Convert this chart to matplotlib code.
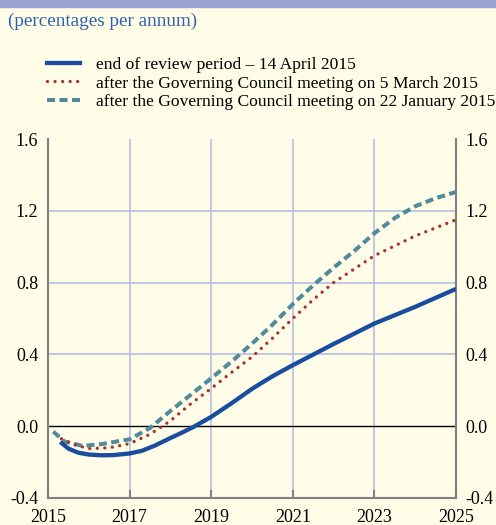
import numpy as np
import matplotlib
matplotlib.use('Agg')
import matplotlib.pyplot as plt
from matplotlib.lines import Line2D

# %% Data (years, percentages per annum)
blue_x = [2015.3, 2015.5, 2015.75, 2016.0, 2016.3, 2016.6, 2017.0, 2017.3,
          2017.6, 2018.0, 2018.3, 2018.6, 2019.0, 2019.5, 2020.0, 2020.5,
          2021.0, 2022.0, 2023.0, 2024.0, 2025.0]
blue_y = [-0.088, -0.125, -0.148, -0.158, -0.162, -0.161, -0.152, -0.137,
          -0.11, -0.066, -0.034, 0.0, 0.052, 0.128, 0.208, 0.278, 0.34,
          0.458, 0.572, 0.665, 0.765]

red_x = [2015.33, 2015.6, 2016.0, 2016.5, 2017.0, 2017.5, 2018.0, 2018.5,
         2019.0, 2019.5, 2020.0, 2020.5, 2021.0, 2021.5, 2022.0, 2023.0,
         2024.0, 2025.0]
red_y = [-0.07, -0.1, -0.125, -0.12, -0.097, -0.045, 0.03, 0.125, 0.21,
         0.30, 0.386, 0.49, 0.60, 0.705, 0.80, 0.95, 1.06, 1.15]

teal_x = [2015.13, 2015.4, 2015.85, 2016.3, 2017.0, 2017.5, 2018.0, 2018.5,
          2019.0, 2019.5, 2020.0, 2020.5, 2021.0, 2021.5, 2022.0, 2022.5,
          2023.0, 2023.5, 2024.0, 2024.5, 2025.0]
teal_y = [-0.03, -0.085, -0.11, -0.1, -0.073, -0.01, 0.085, 0.175, 0.267,
          0.36, 0.46, 0.565, 0.68, 0.785, 0.883, 0.975, 1.075, 1.16, 1.225,
          1.27, 1.305]

labels = ['end of review period \u2013 14 April 2015',
          'after the Governing Council meeting on 5 March 2015',
          'after the Governing Council meeting on 22 January 2015']
x_ticks = [2015, 2017, 2019, 2021, 2023, 2025]
y_ticks = [-0.4, 0.0, 0.4, 0.8, 1.2, 1.6]

# %% Styling
bg = '#FFFDE8'
grid_c = '#B8BFE0'
blue_c = '#1B4D9E'
red_c = '#A8332B'
teal_c = '#4F8B9B'
plt.rcParams['font.family'] = ['Liberation Serif', 'DejaVu Serif']

fig = plt.figure(figsize=(4.96, 5.25), dpi=100, facecolor=bg)
ax = fig.add_axes([48 / 496, 1 - 498 / 525, 408 / 496, 359 / 525])
ax.set_facecolor(bg)

# top colour band
fig.patches.append(plt.Rectangle((0, 1 - 7 / 525), 1, 7 / 525,
                                 transform=fig.transFigure,
                                 color='#9BA3D3', zorder=0))
fig.text(8 / 496, 1 - 21 / 525, '(percentages per annum)', color='#2E64AE',
         fontsize=13.8, va='center', ha='left')

for yt in y_ticks[1:-1]:
    if yt != 0.0:
        ax.axhline(yt, color=grid_c, lw=1.2, zorder=1)
for xt in x_ticks[1:-1]:
    ax.axvline(xt, color=grid_c, lw=1.2, zorder=1)
ax.axhline(0.0, color='black', lw=1.0, zorder=2)

teal_ls = (0, (2.0, 1.1))
red_ls = (0, (0.01, 2.25))
ax.plot(teal_x, teal_y, color=teal_c, lw=2.9, ls=teal_ls, zorder=3)
ax.plot(red_x, red_y, color=red_c, lw=2.4, ls=red_ls,
        dash_capstyle='round', zorder=4)
ax.plot(blue_x, blue_y, color=blue_c, lw=3.1, solid_capstyle='butt', zorder=5)

ax.set_xlim(2015, 2025)
ax.set_ylim(-0.4, 1.6)
ax.set_xticks(x_ticks)
ax.set_xticklabels([str(x) for x in x_ticks])
ax.set_yticks(y_ticks)
ax.set_yticklabels(['%.1f' % y for y in y_ticks])
ax.tick_params(axis='x', direction='in', length=6, width=1.5, color='#808080',
               labelsize=13, pad=8, top=False)
ax.tick_params(axis='y', length=0, labelsize=13, pad=7,
               left=True, right=True, labelleft=True, labelright=True)
for s in ['left', 'right', 'bottom']:
    ax.spines[s].set_color('#808080')
    ax.spines[s].set_linewidth(1.5)
ax.spines['top'].set_visible(False)

handles = [Line2D([], [], color=blue_c, lw=3.1),
           Line2D([], [], color=red_c, lw=2.4, ls=red_ls,
                  dash_capstyle='round'),
           Line2D([], [], color=teal_c, lw=2.9, ls=teal_ls)]
fig.legend(handles, labels, loc='upper left',
           bbox_to_anchor=(40 / 496, 1 - 50 / 525), frameon=False,
           fontsize=12.6, handlelength=1.9, handletextpad=0.9,
           labelspacing=0.12, borderaxespad=0)

fig.savefig('out.png', dpi=100, facecolor=bg)
